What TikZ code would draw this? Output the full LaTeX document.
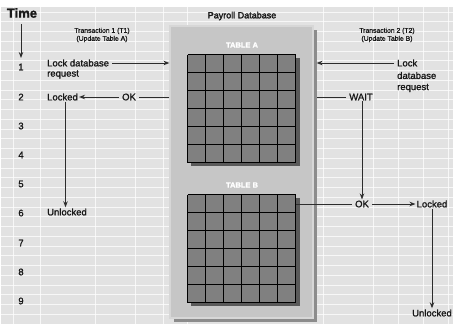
\documentclass[tikz,border=0pt]{standalone}
\usepackage{fontspec}
\setmainfont{Liberation Sans}[FakeBold=1.4]
\newfontfamily\titlefont{Liberation Sans}[FakeBold=2.2]
\usetikzlibrary{arrows.meta}
\definecolor{bggray}{RGB}{226,226,226}
\definecolor{boxgray}{RGB}{198,198,198}
\definecolor{boxedge}{RGB}{215,215,215}
\definecolor{boxshadow}{RGB}{140,140,140}
\definecolor{cellgray}{RGB}{128,128,128}
\definecolor{cellshadow}{RGB}{90,90,90}
\definecolor{linegray}{RGB}{45,45,45}
\definecolor{txt}{RGB}{25,25,25}
\tikzset{
  lbl/.style={font=\fontsize{9.5}{11}\selectfont, text=txt, inner sep=1pt},
  small/.style={font=\fontsize{6.8}{8}\selectfont, text=txt, inner sep=1pt, align=center},
  num/.style={font=\fontsize{9.5}{11}\selectfont, text=txt, inner sep=1pt},
  conn/.style={draw=linegray, line width=1pt},
  arr/.style={conn, -{Stealth[length=6pt,width=4.5pt]}},
  tablebox/.style={fill=cellgray, minimum width=108pt, minimum height=108pt, inner sep=0pt, draw=none},
  tabtitle/.style={font=\bfseries\fontsize{7.5}{9}\selectfont, text=white, inner sep=1pt},
  gridline/.style={draw=white, line width=0.9pt, opacity=0.75},
  cellline/.style={draw=black, line width=0.9pt}
}
\begin{document}
\begin{tikzpicture}[x=1pt,y=-1pt]
\useasboundingbox (0,0) rectangle (453,324);
% background
\fill[white] (0,0) rectangle (453,324);
\fill[bggray] (1,7) rectangle (453,324);
\foreach \x in {13,40,95,135,163,187,323,373,398,423,448}
  \draw[gridline] (\x,7) -- (\x,324);
\foreach \i in {0,...,32}
  \draw[gridline, line width=0.6pt] (1,{12+9.75*\i}) -- (453,{12+9.75*\i});
% database box
\fill[boxshadow] (174,30) rectangle (317,322);
\node[fill=boxgray, draw=boxedge, line width=1.2pt, minimum width=143pt, minimum height=292pt, inner sep=0pt] (db) at (241.5,172) {};
\node[lbl, font=\titlefont\fontsize{9}{11}\selectfont] (dbt) at (242,16) {Payroll Database};
% table A
\fill[cellshadow] (191,58) rectangle (300,166);
\node[tablebox] (ta) at (242,109) {};
\foreach \k in {0,...,6} {
  \draw[cellline] ([xshift=18*\k]ta.north west) -- ([xshift=18*\k]ta.south west);
  \draw[cellline] ([yshift=-18*\k]ta.north west) -- ([yshift=-18*\k]ta.north east);
}
\node[tabtitle] (tat) at (242,45) {TABLE A};
% table B
\fill[cellshadow] (191,198) rectangle (300,306);
\node[tablebox] (tb) at (242,249) {};
\foreach \k in {0,...,6} {
  \draw[cellline] ([xshift=18*\k]tb.north west) -- ([xshift=18*\k]tb.south west);
  \draw[cellline] ([yshift=-18*\k]tb.north west) -- ([yshift=-18*\k]tb.north east);
}
\node[tabtitle] (tbt) at (242,185) {TABLE B};
% time axis
\node[text=txt, font=\bfseries\fontsize{13}{15}\selectfont, inner sep=1pt] (time) at (22,13) {Time};
\coordinate (tarr) at (21,58);
\draw[arr] (time.south -| tarr) ++(0,5) -- (tarr);
\foreach \n/\yy in {1/67,2/97,3/126,4/155,5/184,6/213,7/243,8/272,9/301}
  \node[num] (n\n) at (21,\yy) {\n};
% transaction headings
\node[small] (t1h) at (102,35) {Transaction 1 (T1)\\(Update Table A)};
\node[small] (t2h) at (387,35) {Transaction 2 (T2)\\(Update Table B)};
% T1 column
\node[lbl, anchor=west] (t1lock) at (46,63) {Lock database};
\node[lbl, anchor=west] (t1req) at (46,74.5) {request};
\node[lbl, anchor=west] (t1locked) at (46,97) {Locked};
\node[lbl] (t1ok) at (129,97) {OK};
\node[lbl, anchor=west] (t1unl) at (46,212) {Unlocked};
\draw[arr] ([xshift=2pt]t1lock.east) -- (t1lock -| db.west);
\draw[conn] (t1ok -| db.west) -- ([xshift=2pt]t1ok.east);
\draw[arr] ([xshift=-2pt]t1ok.west) -- (t1locked.east);
\draw[arr] ([xshift=3pt]t1locked.south) -- ([xshift=3pt]t1locked.south |- t1unl.north);
% T2 column
\node[lbl, anchor=west] (t2lock) at (396,63) {Lock};
\node[lbl, anchor=west] (t2db) at (396,75.5) {database};
\node[lbl, anchor=west] (t2req) at (396,88) {request};
\node[lbl] (t2wait) at (361,97) {WAIT};
\node[lbl] (t2ok) at (362,204) {OK};
\node[lbl] (t2locked) at (432,204) {Locked};
\node[lbl] (t2unl) at (432,313) {Unlocked};
\draw[arr] ([xshift=-2pt]t2lock.west) -- ([xshift=3pt]t2lock -| db.east);
\draw[conn] ([xshift=-2pt]t2wait.west) -- ([xshift=3pt]t2wait -| db.east);
\draw[arr] ([xshift=1pt]t2wait.south) -- ([xshift=1pt]t2wait.south |- t2ok.north);
\draw[conn] (t2ok -| tb.east) -- ([xshift=-2pt]t2ok.west);
\draw[arr] ([xshift=2pt]t2ok.east) -- (t2locked.west);
\draw[arr] (t2locked.south) -- (t2locked.south |- t2unl.north);
\end{tikzpicture}
\end{document}
